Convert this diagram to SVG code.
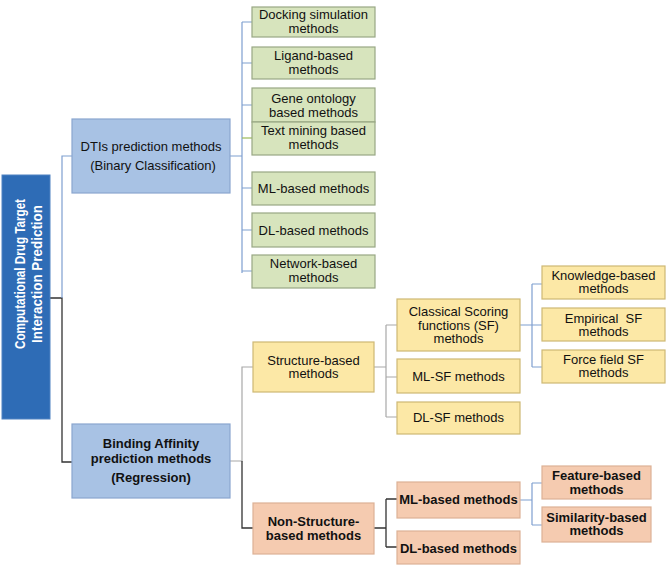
<svg xmlns="http://www.w3.org/2000/svg" width="669" height="565" viewBox="0 0 669 565">
<style>
text{font-family:"Liberation Sans",Arial,sans-serif;font-size:13px;fill:#111;text-anchor:middle}
.b{font-weight:bold}
.root{fill:#2e6cb6;stroke:#4f82c2;stroke-width:1}
.blue{fill:#a8c2e4;stroke:#8aa6cf;stroke-width:1.2}
.green{fill:#d7e4bd;stroke:#98a784;stroke-width:1.2}
.yellow{fill:#fce8a6;stroke:#cdb874;stroke-width:1.2}
.salmon{fill:#f5cbb0;stroke:#dcb196;stroke-width:1.2}
.cb{stroke:#7f9fd0;stroke-width:1.2;fill:none}
.cg{stroke:#a8a8a8;stroke-width:1.2;fill:none}
.cd{stroke:#333;stroke-width:1.3;fill:none}
.cgr{stroke:#9bbb59;stroke-width:1.2;fill:none}
.rt{fill:#fff;font-weight:bold;font-size:15.5px}
</style>
<g id="connectors">
<path class="cd" d="M50 298H62V462H72"/>
<path class="cb" d="M62 298V156H72"/>
<path class="cb" d="M230 156H242M242 22V273M242 22H252M242 63H252M242 105H252M242 188H252M242 230H252M242 271H252"/>
<path class="cgr" d="M242 138H252"/>
<path class="cg" d="M230 461H242V367H253"/>
<path class="cd" d="M242 461V528H253"/>
<path class="cg" d="M374 367H386M386 325V417M386 325H397M386 377H397M386 417H397"/>
<path class="cb" d="M520 325H532M532 284V367M532 284H542M532 325H542M532 367H542"/>
<path class="cd" d="M374 528H386M386 499V547M386 499H397M386 547H397"/>
<path class="cb" d="M520 500H532M532 483V525M532 483H542M532 525H542"/>
</g>
<g id="root">
<rect class="root" x="2" y="175" width="48" height="244"/>
<text class="rt" transform="translate(25,274) rotate(-90)" textLength="150" lengthAdjust="spacingAndGlyphs">Computational Drug Target</text>
<text class="rt" transform="translate(42,274) rotate(-90)" textLength="138" lengthAdjust="spacingAndGlyphs">Interaction Prediction</text>
</g>
<g id="dtis">
<rect class="blue" x="72" y="119" width="158" height="74"/>
<text x="151" y="151">DTIs prediction methods</text>
<text x="153" y="170">(Binary Classification)</text>
</g>
<g id="binding">
<rect class="blue" x="72" y="424" width="158" height="74"/>
<text class="b" x="151" y="448">Binding Affinity</text>
<text class="b" x="151" y="463">prediction methods</text>
<text class="b" x="151" y="482">(Regression)</text>
</g>
<g id="docking">
<rect class="green" x="252" y="7" width="123" height="30"/>
<text x="313.5" y="19">Docking simulation</text>
<text x="313.5" y="33">methods</text>
</g>
<g id="ligand">
<rect class="green" x="252" y="47" width="123" height="32"/>
<text x="313.5" y="60">Ligand-based</text>
<text x="313.5" y="74">methods</text>
</g>
<g id="gene">
<rect class="green" x="252" y="88" width="123" height="34"/>
<text x="313.5" y="103">Gene ontology</text>
<text x="313.5" y="117">based methods</text>
</g>
<g id="textmining">
<rect class="green" x="252" y="122" width="123" height="33"/>
<text x="313.5" y="134.5">Text mining based</text>
<text x="313.5" y="148.5">methods</text>
</g>
<g id="mlbased">
<rect class="green" x="252" y="172" width="123" height="33"/>
<text x="313.5" y="193">ML-based methods</text>
</g>
<g id="dlbased">
<rect class="green" x="252" y="213" width="123" height="34"/>
<text x="313.5" y="234.5">DL-based methods</text>
</g>
<g id="network">
<rect class="green" x="252" y="255" width="123" height="33"/>
<text x="313.5" y="268">Network-based</text>
<text x="313.5" y="282">methods</text>
</g>
<g id="structure">
<rect class="yellow" x="253" y="342" width="121" height="50"/>
<text x="313.5" y="364.5">Structure-based</text>
<text x="313.5" y="378">methods</text>
</g>
<g id="classical">
<rect class="yellow" x="397" y="299" width="123" height="52"/>
<text x="458.5" y="316">Classical Scoring</text>
<text x="458.5" y="329.5">functions (SF)</text>
<text x="458.5" y="343">methods</text>
</g>
<g id="mlsf">
<rect class="yellow" x="397" y="359" width="123" height="34"/>
<text x="458.5" y="381">ML-SF methods</text>
</g>
<g id="dlsf">
<rect class="yellow" x="397" y="402" width="123" height="32"/>
<text x="458.5" y="422">DL-SF methods</text>
</g>
<g id="knowledge">
<rect class="yellow" x="542" y="266" width="123" height="33"/>
<text x="603.5" y="279.5">Knowledge-based</text>
<text x="603.5" y="293">methods</text>
</g>
<g id="empirical">
<rect class="yellow" x="542" y="308" width="123" height="33"/>
<text x="603.5" y="322.5" xml:space="preserve">Empirical  SF</text>
<text x="603.5" y="336">methods</text>
</g>
<g id="forcefield">
<rect class="yellow" x="542" y="350" width="123" height="33"/>
<text x="603.5" y="363.5">Force field SF</text>
<text x="603.5" y="377">methods</text>
</g>
<g id="nonstructure">
<rect class="salmon" x="253" y="503" width="121" height="51"/>
<text class="b" x="313.5" y="526">Non-Structure-</text>
<text class="b" x="313.5" y="540">based methods</text>
</g>
<g id="mlbased2">
<rect class="salmon" x="397" y="482" width="123" height="36"/>
<text class="b" x="458.5" y="504">ML-based methods</text>
</g>
<g id="dlbased2">
<rect class="salmon" x="397" y="531" width="123" height="33"/>
<text class="b" x="458.5" y="552.5">DL-based methods</text>
</g>
<g id="feature">
<rect class="salmon" x="542" y="466" width="109" height="33"/>
<text class="b" x="596.5" y="480">Feature-based</text>
<text class="b" x="596.5" y="494">methods</text>
</g>
<g id="similarity">
<rect class="salmon" x="542" y="507" width="109" height="35"/>
<text class="b" x="596.5" y="521.5">Similarity-based</text>
<text class="b" x="596.5" y="535">methods</text>
</g>
</svg>
